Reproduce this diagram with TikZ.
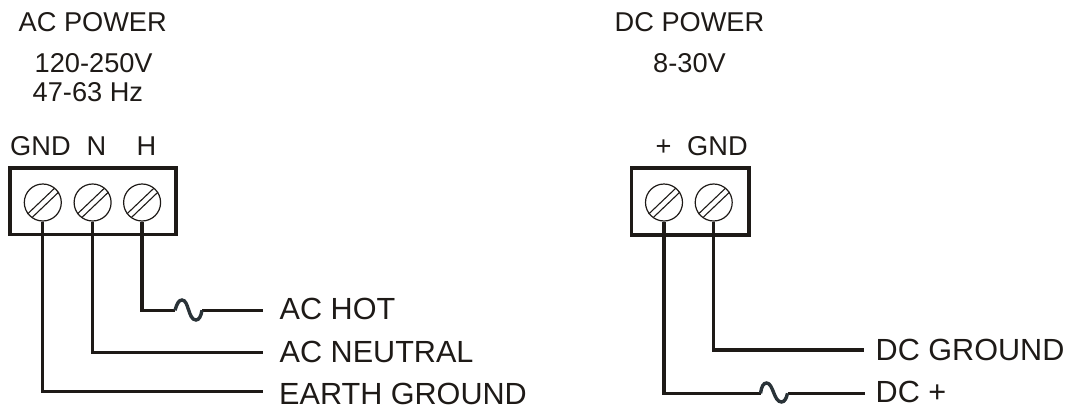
\documentclass[tikz,border=0pt]{standalone}
\usepackage{fontspec}
\setmainfont{Liberation Sans}
\usetikzlibrary{calc}
\definecolor{ink}{HTML}{1E1A17}
\definecolor{fusecol}{HTML}{2A3338}
\tikzset{
  x=1pt,y=-1pt,
  lab/.style={inner sep=0pt,anchor=base west,text=ink,font=\fontsize{27.2}{27.2}\selectfont},
  lablarge/.style={lab,font=\fontsize{30.6}{30.6}\selectfont},
  box/.style={draw=ink,line width=3.5pt,line join=miter,inner sep=0pt},
  screw/.style={circle,draw=ink,line width=1.2pt,minimum size=37pt,inner sep=0pt},
  slot/.style={draw=ink,line width=1.1pt},
  wire/.style={draw=ink,line width=3.3pt,line join=miter},
  fuse/.style={draw=fusecol,line width=3.4pt}
}
\newcommand{\screwslots}[1]{%
  \draw[slot] ($(#1)+(-15.3,11.5)$) -- ($(#1)+(12,-14.5)$);
  \draw[slot] ($(#1)+(-10.7,15)$) -- ($(#1)+(16,-10.5)$);
}
\begin{document}
\begin{tikzpicture}
\useasboundingbox (0,0) rectangle (1068,407);
% text
\node[lab] (acp) at (18.5,31) {AC POWER};
\node[lab] (acv) at (34.5,72) {120-250V};
\node[lab] (ach) at (32.5,101.7) {47-63 Hz};
\node[lab] (dcp) at (614.5,31) {DC POWER};
\node[lab] (dcv) at (653,72) {8-30V};
\node[lab] (lg) at (10,155.7) {GND};
\node[lab] (ln) at (86.5,155.7) {N};
\node[lab] (lh) at (136.5,155.7) {H};
\node[lab] (lp) at (655.5,155.7) {+};
\node[lab] (lg2) at (687,155.7) {GND};
\node[lablarge] (hot) at (279.5,319.3) {AC HOT};
\node[lablarge] (neu) at (279.5,362.7) {AC NEUTRAL};
\node[lablarge] (ear) at (279,404.3) {EARTH GROUND};
\node[lablarge] (dcg) at (875.5,360.7) {DC GROUND};
\node[lablarge] (dcplus) at (875.5,402.7) {DC +};
% boxes
\node[box,minimum width=166pt,minimum height=66.7pt] (acbox) at (93,201.3) {};
\node[box,minimum width=117.5pt,minimum height=66.7pt] (dcbox) at (690.25,201.5) {};
% screws
\node[screw] (s1) at (42.8,202.5) {};
\node[screw] (s2) at (92.6,202.5) {};
\node[screw] (s3) at (142.1,202.5) {};
\node[screw] (s4) at (664,202.5) {};
\node[screw] (s5) at (713.7,202.5) {};
\screwslots{s1}\screwslots{s2}\screwslots{s3}\screwslots{s4}\screwslots{s5}
% wire end points
\coordinate (e1) at (263,391.7);
\coordinate (e2) at (263,352.7);
\coordinate (e3) at (263,310.3);
\coordinate (e4) at (865,393.3);
\coordinate (e5) at (864,350);
\coordinate (f1a) at (175,310.3);
\coordinate (f1b) at (202,310.3);
\coordinate (f2a) at (760.5,393.3);
\coordinate (f2b) at (787.5,393.3);
% wires
\draw[wire] (s1.south) -- (s1.south |- e1) -- (e1);
\draw[wire] (s2.south) -- (s2.south |- e2) -- (e2);
\draw[wire] (s3.south) -- (s3.south |- e3) -- (f1a);
\draw[wire] (f1b) -- (e3);
\draw[fuse] (f1a) .. controls ($(f1a)+(2,-7)$) and ($(f1a)+(4,-10.3)$) .. ($(f1a)+(7,-10.3)$) .. controls ($(f1a)+(14,-10.3)$) and ($(f1a)+(13,9.7)$) .. ($(f1a)+(21,9.7)$) .. controls ($(f1a)+(24,9.7)$) and ($(f1a)+(26,6)$) .. (f1b);
\draw[wire] (s4.south) -- (s4.south |- e4) -- (f2a);
\draw[wire] (f2b) -- (e4);
\draw[fuse] (f2a) .. controls ($(f2a)+(1,-7)$) and ($(f2a)+(3,-10.3)$) .. ($(f2a)+(6,-10.3)$) .. controls ($(f2a)+(13,-10.3)$) and ($(f2a)+(13,8.7)$) .. ($(f2a)+(21,8.7)$) .. controls ($(f2a)+(24,8.7)$) and ($(f2a)+(26,5)$) .. (f2b);
\draw[wire] (s5.south) -- (s5.south |- e5) -- (e5);
\end{tikzpicture}
\end{document}
